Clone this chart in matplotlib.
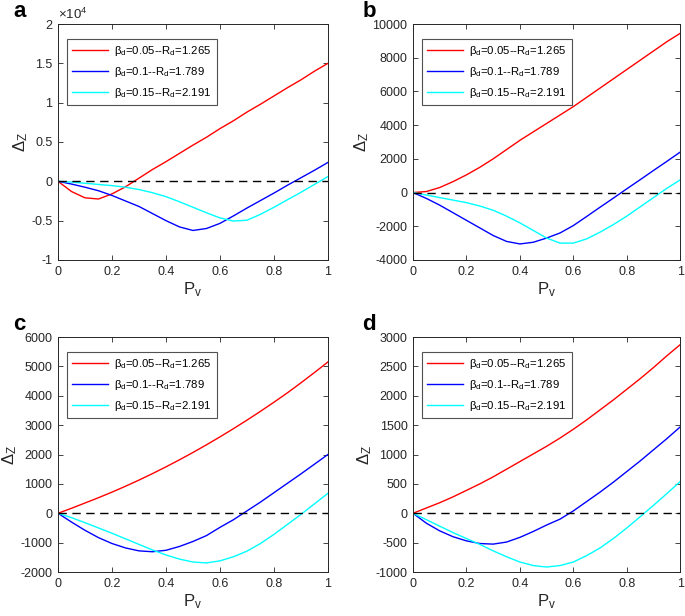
import numpy as np
import matplotlib
matplotlib.use("Agg")
import matplotlib.pyplot as plt
from matplotlib.ticker import FuncFormatter

plt.rcParams['font.family'] = ['Liberation Sans', 'DejaVu Sans']
plt.rcParams['mathtext.fontset'] = 'custom'
plt.rcParams['mathtext.rm'] = 'Liberation Sans'
plt.rcParams['mathtext.it'] = 'Liberation Sans'
plt.rcParams['mathtext.bf'] = 'Liberation Sans:bold'

pv = [0, 0.05, 0.1, 0.15, 0.2, 0.25, 0.3, 0.35, 0.4, 0.45, 0.5,
      0.55, 0.6, 0.65, 0.7, 0.75, 0.8, 0.85, 0.9, 0.95, 1.0]

labels = [r'$\beta_{\rm d}$=0.05--R$_{\rm d}$=1.265',
          r'$\beta_{\rm d}$=0.1--R$_{\rm d}$=1.789',
          r'$\beta_{\rm d}$=0.15--R$_{\rm d}$=2.191']
colors = ['#ff0000', '#0000ff', '#00ffff']

# Panel a (values)
a_red = [0, -1300, -2100, -2250, -1600, -700, 400, 1500, 2500, 3550, 4600,
         5600, 6700, 7700, 8800, 9800, 10850, 11900, 12900, 14000, 15000]
a_blue = [0, -350, -750, -1200, -1800, -2500, -3200, -4100, -5000, -5800, -6250,
          -6000, -5350, -4400, -3400, -2450, -1500, -500, 450, 1400, 2400]
a_cyan = [0, -100, -250, -400, -550, -750, -1050, -1450, -1950, -2600, -3300,
          -4000, -4650, -5050, -4950, -4200, -3300, -2350, -1400, -400, 600]

# Panel b
b_red = [0, 60, 300, 650, 1050, 1500, 2000, 2550, 3100, 3600, 4100,
         4600, 5100, 5650, 6200, 6750, 7300, 7850, 8400, 8950, 9450]
b_blue = [0, -350, -750, -1200, -1650, -2100, -2550, -2900, -3050, -2950, -2700,
          -2400, -1960, -1420, -870, -330, 220, 760, 1310, 1850, 2400]
b_cyan = [0, -150, -300, -450, -600, -800, -1050, -1400, -1800, -2250, -2700,
          -3000, -3000, -2750, -2350, -1900, -1400, -850, -300, 250, 750]

# Panel c
c_red = [0, 170, 350, 530, 720, 920, 1130, 1350, 1580, 1820, 2070,
         2330, 2600, 2880, 3170, 3470, 3780, 4100, 4440, 4790, 5150]
c_blue = [0, -300, -580, -830, -1030, -1180, -1280, -1310, -1260, -1130, -960,
          -760, -480, -220, 80, 380, 700, 1020, 1340, 1670, 2000]
c_cyan = [0, -150, -320, -500, -680, -870, -1060, -1250, -1420, -1560, -1660,
          -1690, -1620, -1480, -1290, -1030, -720, -380, -40, 320, 680]

# Panel d
d_red = [0, 90, 180, 280, 390, 500, 620, 750, 880, 1010, 1140,
         1280, 1430, 1590, 1760, 1930, 2110, 2290, 2480, 2680, 2870]
d_blue = [0, -170, -300, -400, -470, -515, -525, -490, -410, -310, -200,
          -100, 40, 200, 360, 530, 710, 890, 1080, 1270, 1470]
d_cyan = [0, -110, -220, -330, -430, -530, -640, -740, -830, -890, -915,
          -890, -830, -720, -590, -430, -250, -60, 135, 335, 540]

panels = [
    ('a', [a_red, a_blue, a_cyan], (-10000, 20000), np.arange(-10000, 20001, 5000)),
    ('b', [b_red, b_blue, b_cyan], (-4000, 10000), np.arange(-4000, 10001, 2000)),
    ('c', [c_red, c_blue, c_cyan], (-2000, 6000), np.arange(-2000, 6001, 1000)),
    ('d', [d_red, d_blue, d_cyan], (-1000, 3000), np.arange(-1000, 3001, 500)),
]

positions = [
    [0.0847, 0.578, 0.394, 0.383],
    [0.603, 0.578, 0.39, 0.383],
    [0.0847, 0.0714, 0.394, 0.3815],
    [0.603, 0.0714, 0.39, 0.3815],
]
letter_pos = [(0.019, 0.9724), (0.529, 0.9724), (0.019, 0.464), (0.529, 0.464)]

fig = plt.figure(figsize=(6.85, 6.16), dpi=100)
grey = '#262626'
for (name, series, ylim, yticks), pos, lp in zip(panels, positions, letter_pos):
    ax = fig.add_axes(pos)
    for s, col, lab in zip(series, colors, labels):
        ax.plot(pv, s, color=col, lw=1.0, label=lab)
    ax.plot([0, 1], [0, 0], color='black', lw=1.0, ls=(0, (6, 4)))
    ax.set_xlim(0, 1)
    ax.set_ylim(*ylim)
    ax.set_xticks([0, 0.2, 0.4, 0.6, 0.8, 1.0])
    ax.set_yticks(yticks)
    ax.xaxis.set_major_formatter(FuncFormatter(lambda v, p: '%g' % round(v, 3)))
    if name == 'a':
        ax.yaxis.set_major_formatter(FuncFormatter(lambda v, p: '%g' % (v / 1e4)))
        ax.text(0.0, 1.008, r'$\times$10$^{4}$', transform=ax.transAxes,
                fontsize=9.5, color=grey, ha='left', va='bottom')
    else:
        ax.yaxis.set_major_formatter(FuncFormatter(lambda v, p: '%d' % v))
    ax.tick_params(direction='in', length=3.5, width=0.6, top=True, right=True,
                   labelsize=9, colors=grey, labelcolor=grey, pad=4)
    for sp in ax.spines.values():
        sp.set_color(grey)
        sp.set_linewidth(0.7)
    ax.set_xlabel(r'P$_{\rm v}$', fontsize=12, color=grey, labelpad=2)
    ax.set_ylabel(r'$\Delta_{\rm Z}$', fontsize=12, color=grey, labelpad=1)
    leg = ax.legend(loc='upper left', bbox_to_anchor=(0.033, 0.936), fontsize=8.2,
                    frameon=True, fancybox=False, edgecolor=grey, handlelength=3.2,
                    handletextpad=0.5, labelspacing=0.6, borderpad=0.45,
                    borderaxespad=0.0)
    leg.get_frame().set_linewidth(0.8)
    fig.text(lp[0], lp[1], name, fontsize=16, fontweight='bold', ha='left',
             va='baseline')

fig.savefig('out.png', dpi=100)
